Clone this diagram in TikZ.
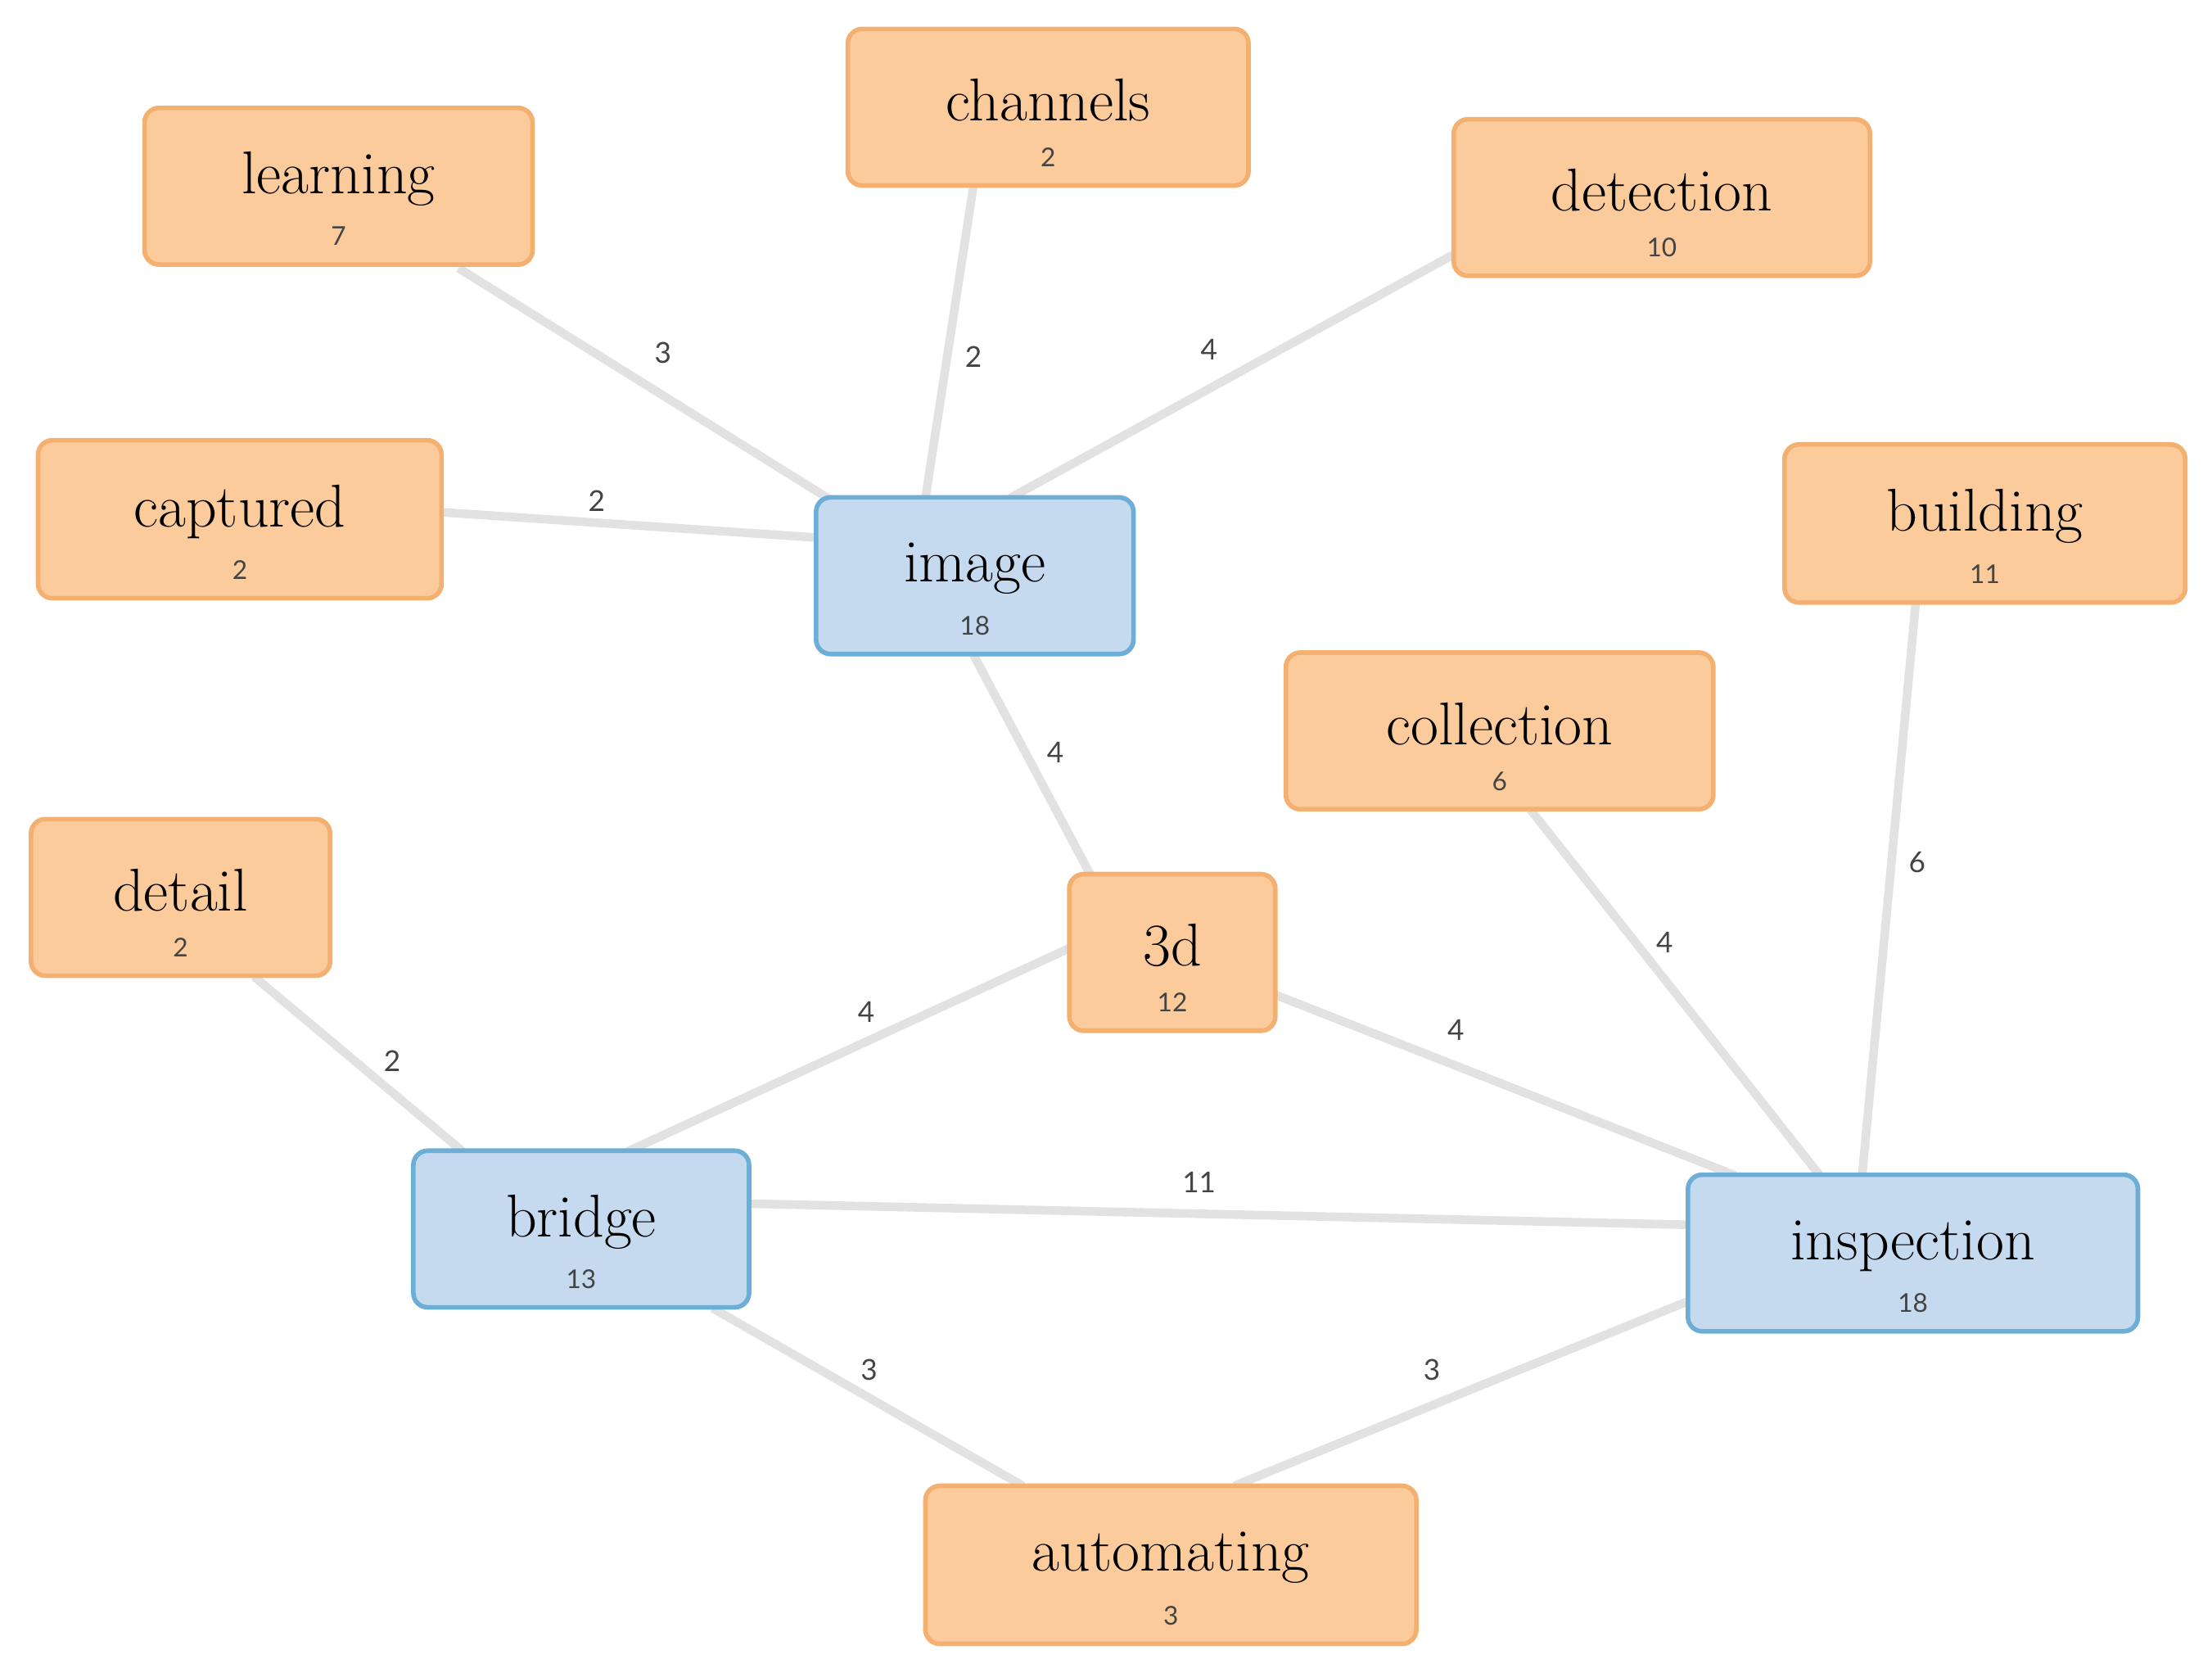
\documentclass[tikz,border=0pt]{standalone}
\usepackage{fontspec}
\newfontfamily\numfont{Lato}
\usetikzlibrary{calc}
\definecolor{ofill}{HTML}{FCCB9C}
\definecolor{oline}{HTML}{F4B071}
\definecolor{bfill}{HTML}{C6DAEF}
\definecolor{bline}{HTML}{6CAED6}
\definecolor{edgec}{HTML}{E2E2E2}
\definecolor{numc}{HTML}{444444}
\tikzset{
  box/.style={draw=oline,fill=ofill,line width=1.6pt,rounded corners=5pt,inner sep=0pt},
  bbox/.style={box,draw=bline,fill=bfill},
  word/.style={font=\fontsize{21}{24}\selectfont,inner sep=0pt},
  cnt/.style={font=\numfont\fontsize{9}{10}\selectfont,text=numc,inner sep=0pt},
  elab/.style={font=\numfont\fontsize{10}{12}\selectfont,text=numc,inner sep=0pt},
  edge/.style={draw=edgec,line width=3pt}
}
\newcommand{\wnode}[8]{%
  \node[#8,minimum width=#4*0.01723cm,minimum height=#5*0.01723cm] (#1) at (#2,#3) {};
  \node[word] (#1w) at ($(#1)+(0,-5)$) {#6};
  \node[cnt] (#1n) at ($(#1)+(0,0.5*#5-20)$) {#7};
}
\begin{document}
\begin{tikzpicture}[x=0.01723cm,y=-0.01723cm]
\useasboundingbox (0,0) rectangle (1568,1188);
% node anchors (invisible) first so edges can refer to them
\foreach \n/\x/\y in {learning/240/132,channels/743/76,detection/1178/140,captured/170/368,image/691/408,building/1407/371,collection/1063/518,detail/128/636,3d/831/675,bridge/412/871,inspection/1356/888,automating/830/1109}
  \coordinate (\n c) at (\x,\y);
\draw[edge] ($(learningc)+(85,58)$) -- ($(imagec)+(-101,-53)$);
\draw[edge] ($(channelsc)+(-53,56)$) -- ($(imagec)+(-35,-55)$);
\draw[edge] ($(detectionc)+(-147,40)$) -- ($(imagec)+(25,-55)$);
\draw[edge] ($(capturedc)+(143,-5)$) -- ($(imagec)+(-112,-27)$);
\draw[edge] ($(imagec)+(-1,56)$) -- ($(3dc)+(-58,-55)$);
\draw[edge] ($(collectionc)+(22,56)$) -- ($(inspectionc)+(-66,-55)$);
\draw[edge] ($(buildingc)+(-49,56)$) -- ($(inspectionc)+(-36,-55)$);
\draw[edge] ($(detailc)+(52,56)$) -- ($(bridgec)+(-84,-55)$);
\draw[edge] ($(3dc)+(-73,-3)$) -- ($(bridgec)+(33,-55)$);
\draw[edge] ($(3dc)+(73,30)$) -- ($(inspectionc)+(-126,-55)$);
\draw[edge] ($(bridgec)+(119,-18)$) -- ($(inspectionc)+(-159,-20)$);
\draw[edge] ($(bridgec)+(93,56)$) -- ($(automatingc)+(-105,-56)$);
\draw[edge] ($(inspectionc)+(-159,34)$) -- ($(automatingc)+(45,-56)$);
% edge labels
\node[elab] (l1) at (470,250) {3};
\node[elab] (l2) at (690,253) {2};
\node[elab] (l3) at (857,248) {4};
\node[elab] (l4) at (423,355) {2};
\node[elab] (l5) at (748,533) {4};
\node[elab] (l6) at (1180,668) {4};
\node[elab] (l7) at (1359,611) {6};
\node[elab] (l8) at (278,752) {2};
\node[elab] (l9) at (614,717) {4};
\node[elab] (l10) at (1032,730) {4};
\node[elab] (l11) at (850,838) {11};
\node[elab] (l12) at (616,971) {3};
\node[elab] (l13) at (1015,971) {3};
% nodes
\wnode{learning}{240}{132}{275}{111}{learning}{7}{box}
\wnode{channels}{743}{76}{284}{111}{channels}{2}{box}
\wnode{detection}{1178}{140}{295}{111}{detection}{10}{box}
\wnode{captured}{170}{368}{286}{112}{captured}{2}{box}
\wnode{image}{691}{408}{225}{111}{image}{18}{bbox}
\wnode{building}{1407}{371}{284}{112}{building}{11}{box}
\wnode{collection}{1063}{518}{303}{111}{collection}{6}{box}
\wnode{detail}{128}{636}{212}{111}{detail}{2}{box}
\wnode{3d}{831}{675}{146}{111}{3d}{12}{box}
\wnode{bridge}{412}{871}{238}{111}{bridge}{13}{bbox}
\wnode{inspection}{1356}{888}{319}{111}{inspection}{18}{bbox}
\wnode{automating}{830}{1109}{348}{112}{automating}{3}{box}
\end{tikzpicture}
\end{document}
